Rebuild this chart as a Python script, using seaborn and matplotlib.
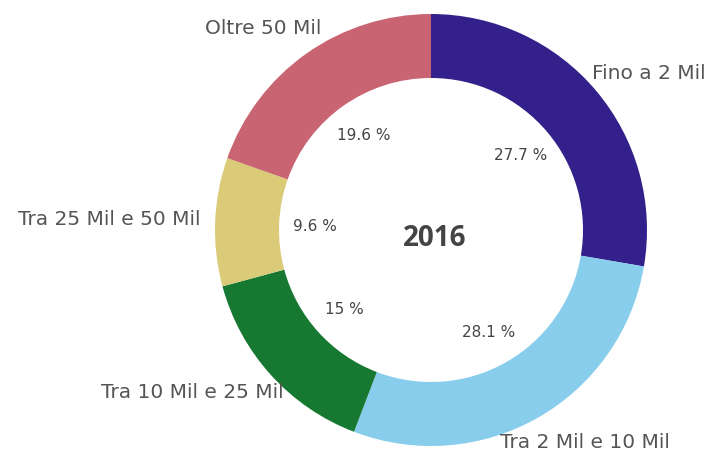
import matplotlib
matplotlib.use("Agg")
import matplotlib.pyplot as plt
import seaborn as sns

sns.set_theme(style="white")
plt.rcParams['font.family'] = ['DejaVu Sans']

# data
categories = ["Fino a 2 Mil", "Tra 2 Mil e 10 Mil", "Tra 10 Mil e 25 Mil",
              "Tra 25 Mil e 50 Mil", "Oltre 50 Mil"]
shares = [27.7, 28.1, 15, 9.6, 19.6]
colors = ["#33208a", "#88cdec", "#177832", "#dbca78", "#c96472"]
center_label = "2016"

# small nudges for the outer labels (pixels, x right / y down)
label_nudge = [(-19, -6), (-48, 7), (27, 4), (5, -3), (26, -10)]

W, H = 710, 456
fig = plt.figure(figsize=(W / 100, H / 100), dpi=100)
ax = fig.add_axes([0, 0, 1, 1])

cx, cy, R = 431, H - 231, 216


def fmt_pct(p):
    return f"{round(p, 1):g} %"


wedges, texts, autotexts = ax.pie(
    shares, labels=categories, colors=colors, startangle=90, counterclock=False,
    center=(cx, cy), radius=R, labeldistance=1.09, pctdistance=0.54, autopct=fmt_pct,
    wedgeprops=dict(width=64, linewidth=0),
    textprops=dict(color="#555555"), frame=True)
ax.set_xlim(0, W)
ax.set_ylim(0, H)
ax.set_aspect("equal")
ax.axis("off")

for t, (dx, dy) in zip(texts, label_nudge):
    x, y = t.get_position()
    t.set_position((x + dx, y - dy))
    t.set_ha("left" if x > cx else "right")
    t.set_fontsize(14.5)
for t in autotexts:
    t.set_fontsize(11)
    t.set_color("#444444")

ax.text(cx + 4, cy - 7, center_label, ha="center", va="center", fontsize=20,
        fontweight="bold", color="#444444", family=["Open Sans", "DejaVu Sans"])

fig.savefig("out.png", dpi=100)
